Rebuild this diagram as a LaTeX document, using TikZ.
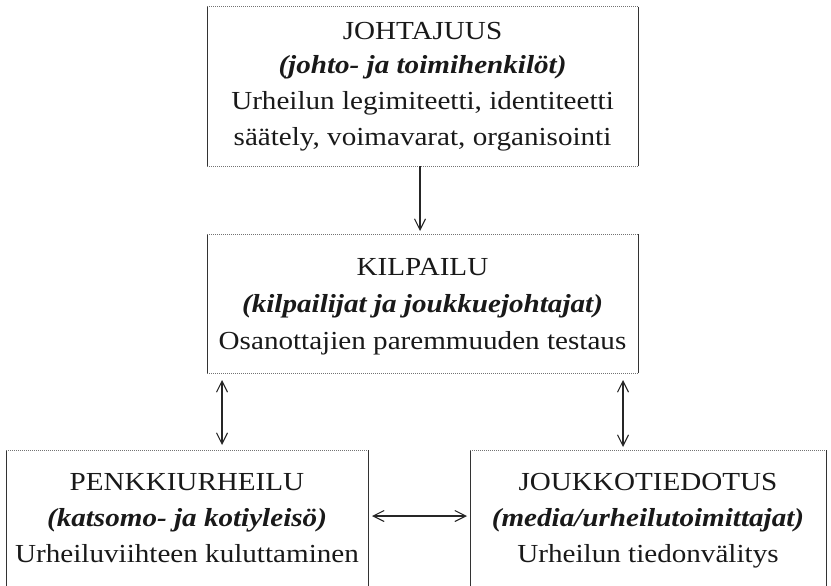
\documentclass[tikz,border=0pt]{standalone}
\usepackage{fontspec}
\setmainfont{Liberation Serif}
\newfontfamily\rf[FakeStretch=1.12]{Liberation Serif}
\usetikzlibrary{arrows.meta}
\tikzset{
  box/.style={draw=none, inner sep=0pt, outer sep=0pt},
  side/.style={draw=black!80, line width=1pt},
  edge/.style={draw=black!55, line width=1pt, densely dotted},
  ln/.style={anchor=base, inner sep=0pt, font=\rf\fontsize{26}{30}\selectfont, text=black!90},
  sub/.style={ln, font=\rf\fontsize{26}{30}\selectfont\bfseries\itshape},
  tip/.style={Straight Barb[length=11pt,width=11pt,line width=1.1pt]},
  arr/.style={draw=black!85, line width=1.1pt, -{Straight Barb[length=11pt,width=11pt]}},
  darr/.style={draw=black!85, line width=1.1pt, {Straight Barb[length=11pt,width=11pt]}-{Straight Barb[length=11pt,width=11pt]}}
}
\begin{document}
\begin{tikzpicture}[x=1pt,y=-1pt]
\useasboundingbox (0,0) rectangle (831,586);
\clip (0,0) rectangle (831,586);
\fill[white] (0,0) rectangle (831,586);

% boxes
\node[box, minimum width=431pt, minimum height=159pt] (top) at (422.5,86.5) {};
\node[box, minimum width=431pt, minimum height=139pt] (mid) at (422.5,303.5) {};
\node[box, minimum width=362pt, minimum height=190pt] (pen) at (187,545) {};
\node[box, minimum width=356pt, minimum height=190pt] (jou) at (648,545) {};

\foreach \b in {top,mid,pen,jou}{
  \draw[side] (\b.north west) -- (\b.south west);
  \draw[side] (\b.north east) -- (\b.south east);
  \draw[edge] (\b.north west) -- (\b.north east);
  \draw[edge] (\b.south west) -- (\b.south east);
}

% texts
\node[ln]  (t1) at (422.5,40)  {JOHTAJUUS};
\node[sub] (t2) at (422.5,74)  {(johto- ja toimihenkilöt)};
\node[ln]  (t3) at (422.5,110) {Urheilun legimiteetti, identiteetti};
\node[ln]  (t4) at (422.5,146) {säätely, voimavarat, organisointi};

\node[ln]  (m1) at (422.5,275) {KILPAILU};
\node[sub] (m2) at (422.5,312) {(kilpailijat ja joukkuejohtajat)};
\node[ln]  (m3) at (422.5,349) {Osanottajien paremmuuden testaus};

\node[ln]  (p1) at (187,490) {PENKKIURHEILU};
\node[sub] (p2) at (187,526) {(katsomo- ja kotiyleisö)};
\node[ln]  (p3) at (187,562) {Urheiluviihteen kuluttaminen};

\node[ln]  (j1) at (648,490) {JOUKKOTIEDOTUS};
\node[sub] (j2) at (648,526) {(media/urheilutoimittajat)};
\node[ln]  (j3) at (648,562) {Urheilun tiedonvälitys};

% connectors
\coordinate (ax) at (420,0);
\coordinate (lx) at (222,0);
\coordinate (rx) at (623,0);
\coordinate (hy) at (0,516);
\draw[arr, shorten >=3pt] (top.south -| ax) -- (mid.north -| ax);
\draw[darr, shorten <=7pt, shorten >=5pt] (mid.south -| lx) -- (pen.north -| lx);
\draw[darr, shorten <=7pt, shorten >=3pt] (mid.south -| rx) -- (jou.north -| rx);
\draw[darr, shorten <=4pt, shorten >=3pt] (pen.east |- hy) -- (jou.west |- hy);
\end{tikzpicture}
\end{document}
